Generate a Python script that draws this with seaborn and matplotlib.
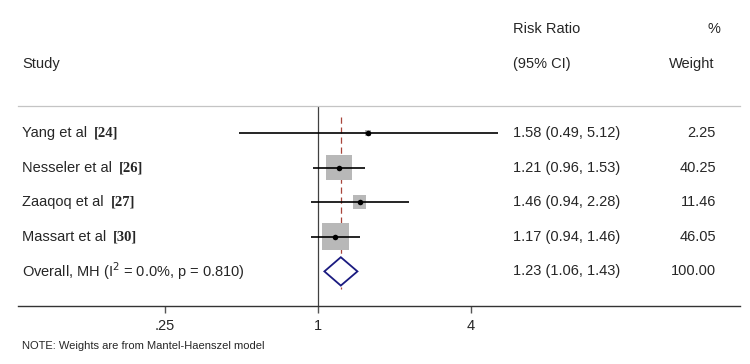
import numpy as np
import pandas as pd
import seaborn as sns
import matplotlib.pyplot as plt
from matplotlib.transforms import blended_transform_factory

# dados do forest plot
estudos = ['Yang et al', 'Nesseler et al', 'Zaaqoq et al', 'Massart et al']
refs = ['[24]', '[26]', '[27]', '[30]']
rr = [1.58, 1.21, 1.46, 1.17]
ci_low = [0.49, 0.96, 0.94, 0.94]
ci_high = [5.12, 1.53, 2.28, 1.46]
pesos = [2.25, 40.25, 11.46, 46.05]

overall_label = 'Overall, MH (I$^2$ = 0.0%, p = 0.810)'
overall_rr = 1.23
overall_low = 1.06
overall_high = 1.43
overall_peso = 100.00

ticks = [0.25, 1, 4]
tick_labels = ['.25', '1', '4']

df = pd.DataFrame({'estudo': estudos, 'ref': refs, 'rr': rr,
                   'low': ci_low, 'high': ci_high, 'peso': pesos})
df['linha'] = np.arange(len(df))
linha_overall = len(df)

sns.set_style('white')
plt.rcParams['font.family'] = ['Liberation Sans', 'DejaVu Sans']

fig = plt.figure(figsize=(7.5, 3.64), dpi=100)
ax = fig.add_axes([18 / 750, 58 / 364, 722 / 750, 200 / 364])

ax.set_xscale('log', base=2)
ax.set_xlim(0.066, 45.8)
ax.set_ylim(5.0, -0.78)

# caixas cinza (area proporcional ao peso)
ax.scatter(df['rr'], df['linha'], s=df['peso'] * 8.2, marker='s',
           color='#b8b8b8', linewidths=0, zorder=2)
# intervalos de confianca
ax.hlines(df['linha'], df['low'], df['high'], color='black', lw=1.2, zorder=3)
sns.scatterplot(x=df['rr'], y=df['linha'], ax=ax, color='black', s=16,
                linewidth=0, zorder=4)

# linha de nulidade e linha do efeito geral
ax.axvline(1, color='#404040', lw=0.9, zorder=1)
ax.vlines(overall_rr, -0.46, 4.5, color='#a8453b', lw=0.9,
          linestyles=(0, (5, 3)), zorder=1)

# diamante do efeito geral
h = 0.41
ax.fill([overall_low, overall_rr, overall_high, overall_rr],
        [linha_overall, linha_overall - h, linha_overall, linha_overall + h],
        facecolor='white', edgecolor='#1a1a80', lw=1.3, zorder=3)

# eixos
for lado in ['left', 'right']:
    ax.spines[lado].set_visible(False)
ax.spines['top'].set_color('#c4c4c4')
ax.spines['top'].set_linewidth(0.9)
ax.spines['bottom'].set_color('#333333')
ax.spines['bottom'].set_linewidth(1.0)
ax.set_yticks([])
ax.set_xticks(ticks)
ax.set_xticklabels(tick_labels)
ax.xaxis.set_minor_locator(plt.NullLocator())
ax.tick_params(axis='x', bottom=True, length=5, width=1, color='#555555',
               labelsize=10.5, pad=4)
ax.set_xlabel('')
ax.set_ylabel('')

# textos
trans = blended_transform_factory(fig.transFigure, ax.transData)
fs = 10.5
x_estudo = 22 / 750
x_ci = 513 / 750
x_peso = 716 / 750

ax.text(x_estudo, -2, 'Study', transform=trans, fontsize=fs, va='center', clip_on=False)
ax.text(x_ci, -3, 'Risk Ratio', transform=trans, fontsize=fs, va='center', clip_on=False)
ax.text(x_ci, -2, '(95% CI)', transform=trans, fontsize=fs, va='center', clip_on=False)
ax.text(720 / 750, -3, '%', transform=trans, fontsize=fs, va='center', ha='right', clip_on=False)
ax.text(714 / 750, -2, 'Weight', transform=trans, fontsize=fs, va='center', ha='right', clip_on=False)

for _, r in df.iterrows():
    t = ax.text(x_estudo, r['linha'], r['estudo'], transform=trans, fontsize=fs,
                va='center', clip_on=False)
    ax.annotate(r['ref'], xy=(1, 0.5), xycoords=t, xytext=(5, 0),
                textcoords='offset points', va='center', fontsize=fs,
                family='Liberation Serif', fontweight='bold')
    ax.text(x_ci, r['linha'], f"{r['rr']:.2f} ({r['low']:.2f}, {r['high']:.2f})",
            transform=trans, fontsize=fs, va='center', clip_on=False)
    ax.text(x_peso, r['linha'], f"{r['peso']:.2f}", transform=trans, fontsize=fs,
            va='center', ha='right', clip_on=False)

ax.text(x_estudo, linha_overall, overall_label, transform=trans, fontsize=fs,
        va='center', clip_on=False)
ax.text(x_ci, linha_overall, f"{overall_rr:.2f} ({overall_low:.2f}, {overall_high:.2f})",
        transform=trans, fontsize=fs, va='center', clip_on=False)
ax.text(x_peso, linha_overall, f"{overall_peso:.2f}", transform=trans, fontsize=fs,
        va='center', ha='right', clip_on=False)

fig.text(x_estudo, 1 - 346 / 364, 'NOTE: Weights are from Mantel-Haenszel model',
         fontsize=8, va='center')

fig.savefig('out.png', dpi=100)
